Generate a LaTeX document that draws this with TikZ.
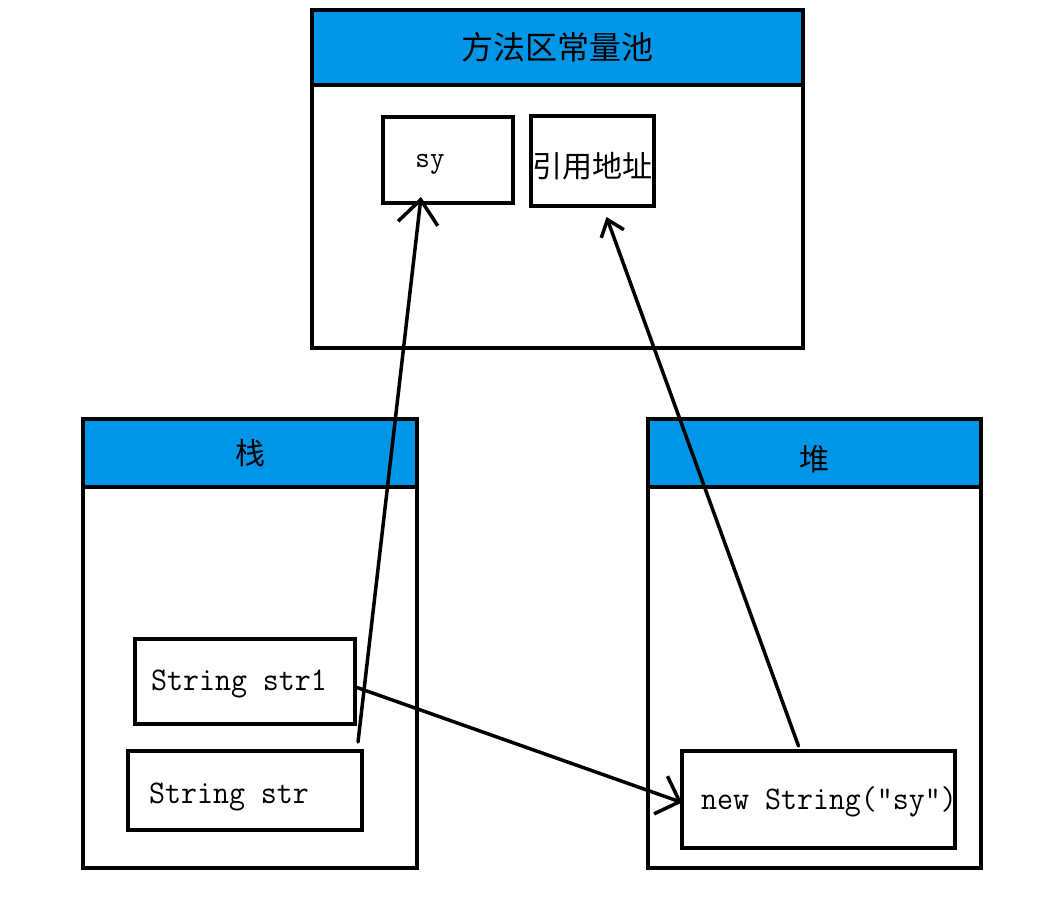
\documentclass[tikz,border=0pt]{standalone}
\usepackage{graphicx}
\usepackage{fontspec}
\newfontfamily\cjkfont{Noto Sans CJK SC}
\usepackage{tikz}
\usetikzlibrary{positioning,calc,arrows.meta}
\definecolor{areablue}{RGB}{0,150,232}
\def\LineW{3.5pt}
% half-width code text, size in pt
\newcommand{\codetxt}[2]{{\ttfamily\fontsize{#1}{#1}\selectfont\scalebox{0.94}[1]{#2}}}

\begin{document}
\begin{tikzpicture}[x=1pt,y=-1pt,
	areahead/.style={draw,fill=areablue,line width=\LineW,outer sep=0pt,inner sep=0pt,
		anchor=north west,font=\cjkfont\fontsize{30}{30}\selectfont},
	areabody/.style={draw,line width=\LineW,outer sep=0pt,inner sep=0pt},
	cell/.style={draw,line width=\LineW,outer sep=0pt,inner sep=0pt},
	ptr/.style={line width=\LineW,line cap=round}]
	\useasboundingbox (0,0) rectangle (1063,921);
	% method area
	\node[areahead,minimum width=491pt,minimum height=75pt,font=\cjkfont\fontsize{32}{32}\selectfont] (mhead) at (312,10) {方法区常量池};
	\node[areabody,minimum width=491pt,minimum height=263pt,below=0pt of mhead] (mbody) {};
	% stack
	\node[areahead,minimum width=334pt,minimum height=68pt] (shead) at (83,419) {栈};
	\node[areabody,minimum width=334pt,minimum height=381pt,below=0pt of shead] (sbody) {};
	% heap
	\node[areahead,minimum width=333pt,minimum height=68pt] (hhead) at (648,419) {};
	\node[areabody,minimum width=333pt,minimum height=381pt,below=0pt of hhead] (hbody) {};
	\node[font=\cjkfont\fontsize{30}{30}\selectfont] (htitle) at ($(hhead.center)+(0,6)$) {堆};
	% cells
	\node[cell,minimum width=130pt,minimum height=86pt] (sy) at (448,160) {};
	\node[cell,minimum width=123pt,minimum height=90pt] (ref) at (592.5,161) {};
	\node[cell,minimum width=220pt,minimum height=85pt] (str1) at (245,681.5) {};
	\node[cell,minimum width=234pt,minimum height=79pt] (str) at (245,790.5) {};
	\node[cell,minimum width=273pt,minimum height=97pt] (newstr) at (818.5,799.5) {};
	% texts
	\node (sytxt) at (430,164) {\codetxt{30}{sy}};
	\node[font=\cjkfont\fontsize{30}{30}\selectfont] (reftxt) at (592,166) {引用地址};
	\node (str1txt) at (239,684) {\codetxt{33}{String str1}};
	\node (strtxt) at (229,797) {\codetxt{33}{String str}};
	\node (newtxt) at (829,802) {\codetxt{33}{new String("sy")}};
	% pointers
	\draw[ptr,-{Straight Barb[length=24pt,width=40pt]}] ($(str.north east)+(-4,-9)$) -- ($(sy.south)+(-27,-6)$);
	\draw[ptr,-{Straight Barb[length=20pt,width=40pt]}] ($(str1.east)+(2,6)$) -- ($(newstr.west)+(0,3)$);
	\draw[ptr,-{Straight Barb[length=15pt,width=24pt]}] ($(newstr.north)+(-20,-5)$) -- ($(ref.south)+(14,11)$);
\end{tikzpicture}
\end{document}
